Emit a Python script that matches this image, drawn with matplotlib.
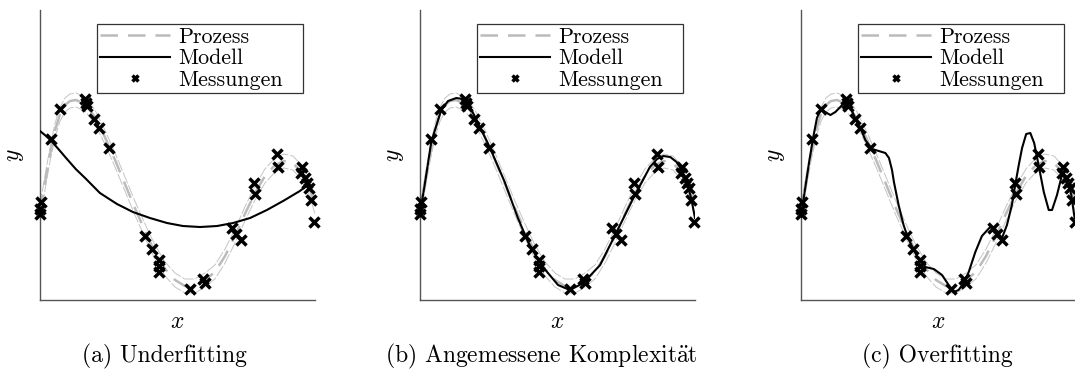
import matplotlib
matplotlib.use("Agg")
import matplotlib.pyplot as plt

plt.rcParams['font.family'] = ['cmr10', 'DejaVu Serif']
plt.rcParams['mathtext.fontset'] = 'cm'
plt.rcParams['axes.unicode_minus'] = False

# Prozess (wahre Funktion)
process_x = [0.000, 0.018, 0.036, 0.055, 0.073, 0.091, 0.109, 0.131, 0.164, 0.200,
             0.236, 0.273, 0.309, 0.345, 0.382, 0.418, 0.455, 0.491, 0.527, 0.564,
             0.600, 0.636, 0.673, 0.709, 0.745, 0.782, 0.818, 0.855, 0.887, 0.920,
             0.953, 0.982, 1.000]
process_y = [-0.12, 0.17, 0.45, 0.70, 0.86, 0.95, 0.99, 1.00, 0.96, 0.83,
             0.63, 0.40, 0.16, -0.08, -0.31, -0.52, -0.69, -0.80, -0.86, -0.86,
             -0.80, -0.72, -0.56, -0.36, -0.14, 0.07, 0.24, 0.35, 0.39, 0.37,
             0.27, 0.10, -0.07]
band_width = 0.07

# Messungen
meas_x = [0.004, 0.000, 0.000, 0.040, 0.073, 0.164, 0.167, 0.171, 0.197, 0.213,
          0.252, 0.382, 0.406, 0.434, 0.434, 0.434, 0.545, 0.594, 0.600, 0.698,
          0.713, 0.732, 0.779, 0.783, 0.862, 0.864, 0.953, 0.950, 0.965, 0.971,
          0.979, 0.984, 0.995]
meas_y = [-0.02, -0.09, -0.14, 0.61, 0.91, 1.01, 0.97, 0.94, 0.81, 0.72,
          0.52, -0.36, -0.49, -0.60, -0.66, -0.72, -0.89, -0.79, -0.83, -0.28,
          -0.34, -0.40, 0.17, 0.06, 0.46, 0.33, 0.33, 0.27, 0.22, 0.17,
          0.12, 0.00, -0.22]

# Modelle
underfit_x = [0.000, 0.020, 0.040, 0.070, 0.098, 0.130, 0.164, 0.218, 0.280, 0.338,
              0.400, 0.462, 0.520, 0.582, 0.644, 0.702, 0.764, 0.825, 0.884, 0.945,
              0.978]
underfit_y = [0.69, 0.645, 0.595, 0.50, 0.41, 0.31, 0.22, 0.07, -0.04, -0.12,
              -0.18, -0.23, -0.26, -0.27, -0.26, -0.23, -0.18, -0.10, -0.01, 0.09,
              0.16]

good_x = [0.000, 0.017, 0.041, 0.077, 0.102, 0.132, 0.156, 0.175, 0.211, 0.253,
          0.308, 0.356, 0.393, 0.441, 0.502, 0.545, 0.594, 0.655, 0.715, 0.776,
          0.836, 0.862, 0.885, 0.910, 0.933, 0.952, 0.970, 0.986, 1.000]
good_y = [-0.13, 0.15, 0.58, 0.90, 0.99, 1.02, 1.01, 0.97, 0.77, 0.53,
          0.18, -0.18, -0.42, -0.65, -0.85, -0.90, -0.83, -0.65, -0.32, 0.02,
          0.33, 0.41, 0.44, 0.43, 0.38, 0.30, 0.18, 0.02, -0.18]

overfit_x = [0.000, 0.010, 0.028, 0.044, 0.058, 0.073, 0.088, 0.107, 0.125, 0.143,
             0.165, 0.179, 0.197, 0.216, 0.234, 0.258, 0.283, 0.307, 0.320, 0.331,
             0.338, 0.355, 0.373, 0.388, 0.410, 0.434, 0.452, 0.483, 0.513, 0.537,
             0.555, 0.573, 0.592, 0.610, 0.634, 0.658, 0.688, 0.713, 0.731, 0.749,
             0.767, 0.779, 0.792, 0.804, 0.819, 0.834, 0.848, 0.864, 0.883, 0.901,
             0.913, 0.931, 0.949, 0.967, 0.983, 0.995]
overfit_y = [-0.17, 0.02, 0.35, 0.62, 0.82, 0.91, 0.88, 0.85, 0.88, 0.93,
             1.00, 0.93, 0.82, 0.72, 0.60, 0.51, 0.49, 0.47, 0.42, 0.30,
             0.18, -0.05, -0.25, -0.37, -0.50, -0.62, -0.67, -0.69, -0.75, -0.85,
             -0.92, -0.90, -0.83, -0.72, -0.52, -0.36, -0.27, -0.32, -0.38, -0.25,
             -0.05, 0.15, 0.35, 0.52, 0.66, 0.67, 0.57, 0.35, 0.08, -0.10,
             -0.10, 0.05, 0.25, 0.23, 0.05, -0.18]

models = [(underfit_x, underfit_y), (good_x, good_y), (overfit_x, overfit_y)]
captions = ['(a) Underfitting', r'(b) Angemessene Komplexit$\ddot{\mathrm{a}}$t',
            '(c) Overfitting']
caption_x = [0.1526, 0.504, 0.8716]

fig = plt.figure(figsize=(10.75, 3.79), dpi=100)
lefts = [0.0372, 0.3907, 0.7451]

upper = [v + band_width for v in process_y]
lower = [v - band_width for v in process_y]

for i, left in enumerate(lefts):
    ax = fig.add_axes([left, 0.2084, 0.2558, 0.7652])
    ax.plot(process_x, upper, color='#c4c4c4', lw=0.7,
            linestyle=(0, (12, 2)), zorder=1)
    ax.plot(process_x, lower, color='#c4c4c4', lw=0.7,
            linestyle=(0, (12, 2)), zorder=1)
    ax.plot(process_x, process_y, color='#bbbbbb', lw=1.8,
            linestyle=(0, (7, 4)), label='Prozess', zorder=2)
    mx, my = models[i]
    ax.plot(mx, my, color='black', lw=1.5, label='Modell', zorder=3)
    ax.plot(meas_x, meas_y, linestyle='none', marker='x', color='black',
            ms=7.5, mew=2.5, label='Messungen', zorder=4, clip_on=False)

    ax.set_xlim(0, 1)
    ax.set_ylim(-1.0, 1.9)
    ax.set_xticks([])
    ax.set_yticks([])
    for side in ['top', 'right']:
        ax.spines[side].set_visible(False)
    for side in ['left', 'bottom']:
        ax.spines[side].set_color('#555555')
        ax.spines[side].set_linewidth(1.0)
    ax.set_xlabel('$x$', fontsize=17, labelpad=8)
    ax.set_ylabel('$y$', fontsize=17, labelpad=10)

    leg = ax.legend(loc='upper left', bbox_to_anchor=(0.207, 0.0, 0.749, 0.952),
                    mode='expand', borderaxespad=0, fontsize=15.8,
                    fancybox=False, framealpha=1, edgecolor='#333333',
                    handlelength=3.2, handletextpad=0.35, labelspacing=0.1,
                    borderpad=0.15, numpoints=1, markerscale=0.65)
    leg.get_frame().set_linewidth(0.9)

    fig.text(caption_x[i], 0.06, captions[i], fontsize=17,
             ha='center', va='center')

fig.savefig('out.png', dpi=100)
